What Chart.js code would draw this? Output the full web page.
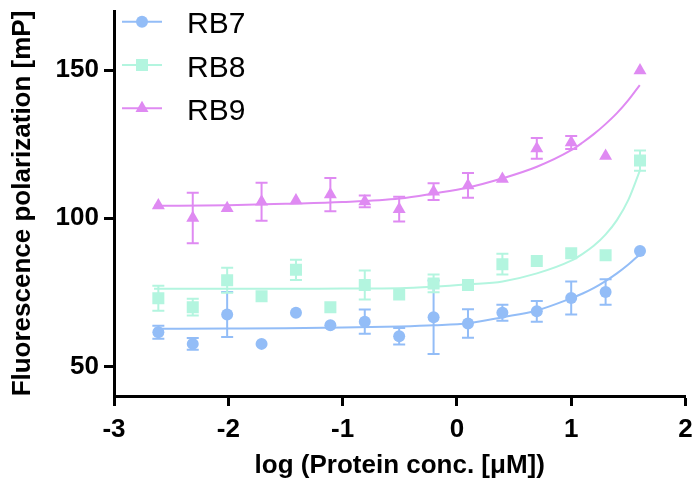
<!DOCTYPE html>
<html lang="en">
<head>
<meta charset="UTF-8" />
<title>Fluorescence polarization</title>
<script src="https://cdn.jsdelivr.net/npm/chart.js"></script>
<style>
  html, body { margin: 0; padding: 0; background: #fff; }
  #chart { display: block; }
</style>
</head>
<body>
<canvas id="chart" width="694" height="484"></canvas>
<script>
// ---- data ----
const logConc = [-2.612, -2.311, -2.010, -1.709, -1.408, -1.107, -0.806, -0.505, -0.204, 0.097, 0.398, 0.699, 1.000, 1.301, 1.602];

const rb7Mean = [61.5, 57.6, 67.5, 57.6, 68.1, 63.9, 65.1, 60.2, 66.6, 64.5, 68.1, 68.6, 73.1, 75.1, 89.0];
const rb7Err  = [2.2, 2.0, 7.6, 0, 0, 0, 4.1, 2.8, 12.4, 4.8, 2.7, 3.5, 5.6, 4.3, 0];

const rb8Mean = [73.0, 70.0, 79.1, 73.7, 82.6, 70.0, 77.5, 74.3, 78.0, 77.5, 84.5, 85.6, 88.2, 87.5, 119.5];
const rb8Err  = [4.2, 2.8, 4.2, 0, 3.4, 0, 4.9, 0, 3.0, 0, 3.5, 0, 0, 0, 3.4];

const rb9Mean = [104.3, 100.1, 103.4, 105.6, 106.0, 108.0, 105.7, 103.1, 109.0, 111.1, 113.3, 123.6, 125.6, 121.0, 149.9];
const rb9Err  = [0, 8.5, 0, 6.4, 0, 5.6, 2.0, 4.2, 2.8, 4.2, 0, 3.5, 2.2, 0, 0];

// fitted curves
const fitX   = [-2.65, -2.0, -1.5, -1.0, -0.5, -0.2, 0.1, 0.4, 0.7, 1.0, 1.1, 1.2, 1.3, 1.4, 1.5, 1.6];
const rb7Fit = [62.7, 62.8, 62.9, 63.1, 63.5, 63.9, 64.6, 66.6, 68.9, 73.0, 74.6, 76.5, 78.8, 81.4, 84.4, 87.8];
const rb8Fit = [76.2, 76.2, 76.2, 76.3, 76.4, 76.9, 77.7, 78.7, 81.4, 85.7, 88.0, 90.8, 94.5, 99.4, 106.2, 116.0];
const rb9Fit = [104.2, 104.4, 104.9, 105.5, 106.7, 108.4, 110.4, 113.5, 117.4, 123.0, 125.6, 128.5, 131.8, 135.5, 139.9, 145.0];

const xTicks = [-3, -2, -1, 0, 1, 2];
const yTicks = [50, 100, 150];

const seriesNames = ["RB7", "RB8", "RB9"];
const colors = ["#93bdf7", "#b3f5df", "#df8af2"];
const markers = ["circle", "rect", "triangle"];
const markerRadius = [6, 8.5, 7.5];

const FONT = "'Liberation Sans', Arial, Helvetica, sans-serif";

const pts = (xs, ys) => xs.map((x, i) => ({ x, y: ys[i] }));

const means = [rb7Mean, rb8Mean, rb9Mean];
const errs = [rb7Err, rb8Err, rb9Err];
const fits = [rb7Fit, rb8Fit, rb9Fit];

const datasets = [];
seriesNames.forEach((name, i) => {
  datasets.push({
    label: name + " fit",
    data: pts(fitX, fits[i]),
    showLine: true,
    borderColor: colors[i],
    borderWidth: 2,
    pointRadius: 0,
    cubicInterpolationMode: "monotone",
    order: 2,
  });
  datasets.push({
    label: name,
    data: pts(logConc, means[i]),
    errors: errs[i],
    showLine: false,
    pointStyle: markers[i],
    pointRadius: markerRadius[i],
    backgroundColor: colors[i],
    borderColor: colors[i],
    borderWidth: 0,
    order: 1,
  });
});

// error bars drawn through the scales
const errorBars = {
  id: "errorBars",
  beforeDatasetsDraw(chart) {
    const { ctx, scales: { x, y } } = chart;
    chart.data.datasets.forEach((ds) => {
      if (!ds.errors) return;
      ctx.save();
      ctx.strokeStyle = ds.borderColor;
      ctx.lineWidth = 2;
      ds.data.forEach((p, i) => {
        const e = ds.errors[i];
        if (!e) return;
        const px = x.getPixelForValue(p.x);
        const top = y.getPixelForValue(p.y + e);
        const bot = y.getPixelForValue(p.y - e);
        ctx.beginPath();
        ctx.moveTo(px, top); ctx.lineTo(px, bot);
        ctx.moveTo(px - 6, top); ctx.lineTo(px + 6, top);
        ctx.moveTo(px - 6, bot); ctx.lineTo(px + 6, bot);
        ctx.stroke();
      });
      ctx.restore();
    });
  },
};

// legend in the upper left corner: line + marker + label
const cornerLegend = {
  id: "cornerLegend",
  afterDraw(chart) {
    const ctx = chart.ctx;
    seriesNames.forEach((name, i) => {
      const cy = 21.7 + 43.3 * i;
      ctx.save();
      ctx.strokeStyle = colors[i];
      ctx.fillStyle = colors[i];
      ctx.lineWidth = 2;
      ctx.beginPath();
      ctx.moveTo(122, cy); ctx.lineTo(162, cy);
      ctx.stroke();
      const r = markerRadius[i];
      ctx.beginPath();
      if (markers[i] === "circle") {
        ctx.arc(142, cy, r, 0, Math.PI * 2);
      } else if (markers[i] === "rect") {
        const s = r * Math.SQRT1_2;
        ctx.rect(142 - s, cy - s, 2 * s, 2 * s);
      } else {
        ctx.moveTo(142, cy - r);
        ctx.lineTo(142 + r * Math.sin(Math.PI / 3), cy + r / 2);
        ctx.lineTo(142 - r * Math.sin(Math.PI / 3), cy + r / 2);
        ctx.closePath();
      }
      ctx.fill();
      ctx.fillStyle = "#000";
      ctx.font = "30px " + FONT;
      ctx.textBaseline = "alphabetic";
      ctx.fillText(name, 187, cy + 11.6);
      ctx.restore();
    });
  },
};

new Chart(document.getElementById("chart"), {
  type: "scatter",
  data: { datasets },
  plugins: [errorBars, cornerLegend],
  options: {
    responsive: false,
    animation: false,
    layout: { padding: { top: 11, right: 7, left: 0, bottom: 0 } },
    plugins: { legend: { display: false }, tooltip: { enabled: false } },
    scales: {
      x: {
        type: "linear",
        min: -3,
        max: 2,
        afterBuildTicks: (s) => { s.ticks = xTicks.map((v) => ({ value: v })); },
        afterFit: (s) => { s.height = 88; s.paddingLeft = 0; s.paddingRight = 0; },
        ticks: {
          color: "#000",
          padding: 8,
          font: { family: FONT, size: 26, weight: "bold" },
        },
        grid: { drawOnChartArea: false, drawTicks: true, tickLength: 10, tickWidth: 3, tickColor: "#000" },
        border: { display: true, color: "#000", width: 3 },
        title: {
          display: true,
          text: "log (Protein conc. [μM])",
          color: "#000",
          font: { family: FONT, size: 26, weight: "bold" },
          padding: { top: 0, bottom: 3 },
        },
      },
      y: {
        min: 40,
        max: 170,
        afterBuildTicks: (s) => { s.ticks = yTicks.map((v) => ({ value: v })); },
        afterFit: (s) => { s.width = 114; s.paddingTop = 0; s.paddingBottom = 0; },
        ticks: {
          color: "#000",
          padding: 5,
          font: { family: FONT, size: 26, weight: "bold" },
        },
        grid: { drawOnChartArea: false, drawTicks: true, tickLength: 10, tickWidth: 3, tickColor: "#000" },
        border: { display: true, color: "#000", width: 3 },
        title: {
          display: true,
          text: "Fluorescence polarization [mP]",
          color: "#000",
          font: { family: FONT, size: 26, weight: "bold" },
          padding: { top: 7, bottom: 0 },
        },
      },
    },
  },
});
</script>
</body>
</html>
